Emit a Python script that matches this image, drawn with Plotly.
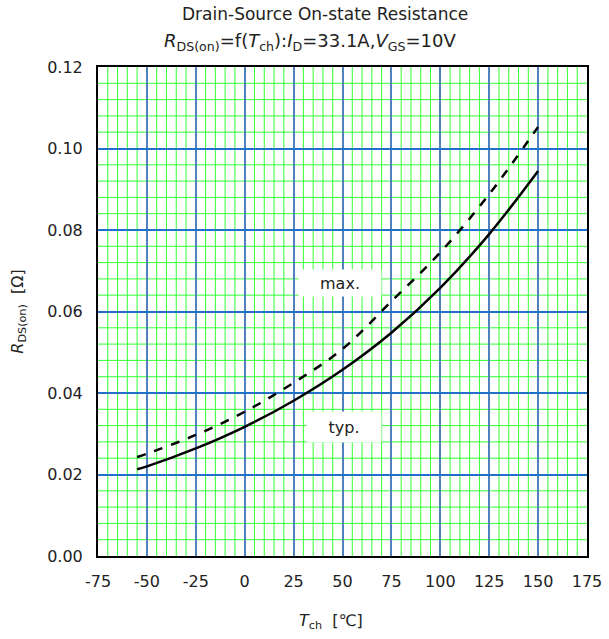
import plotly.graph_objects as go

temps = [-55, -50, -25, 0, 25, 50, 75, 100, 125, 150]
r_typ = [0.0213, 0.0220, 0.0264, 0.0317, 0.0381, 0.0457, 0.0548, 0.0658, 0.0790, 0.0945]
r_max = [0.0243, 0.0251, 0.0297, 0.0354, 0.0425, 0.0508, 0.0625, 0.0745, 0.0888, 0.1053]

x_ticks = [-75, -50, -25, 0, 25, 50, 75, 100, 125, 150, 175]
y_ticks = [0.00, 0.02, 0.04, 0.06, 0.08, 0.10, 0.12]
x_minor = [v for v in range(-75, 176, 5) if v % 25 != 0]
y_minor = [round(i * 0.004, 3) for i in range(0, 31) if i % 5 != 0]

FONT = "DejaVu Sans"
GREEN = "#33ff33"
BLUE_V = "#4f81bd"
BLUE_H = "#1f72c8"
XR = [-75, 175]
YR = [0, 0.12]
NO_MINOR = dict(showgrid=False, ticks="")

fig = go.Figure()
fig.add_trace(go.Scatter(x=temps, y=r_max, mode="lines",
                         line=dict(color="black", width=2.5, dash="dash", shape="spline"),
                         showlegend=False))
fig.add_trace(go.Scatter(x=temps, y=r_typ, mode="lines",
                         line=dict(color="black", width=2.5, shape="spline"),
                         showlegend=False))

fig.update_layout(
    template="none",
    width=609, height=639,
    margin=dict(l=98, r=22, t=67, b=83),
    paper_bgcolor="white", plot_bgcolor="white",
    font=dict(family=FONT, size=16, color="#222"),
    xaxis=dict(range=XR, tickmode="array", tickvals=x_ticks,
               ticktext=[str(v) for v in x_ticks],
               showgrid=True, gridcolor=BLUE_V, gridwidth=2, minor=NO_MINOR,
               showline=True, linecolor="black", linewidth=2, mirror=True,
               zeroline=False, ticks="", ticklabelstandoff=10, automargin=False),
    yaxis=dict(range=YR, tickmode="array", tickvals=y_ticks,
               ticktext=[f"{v:.2f}" for v in y_ticks],
               showgrid=True, gridcolor=BLUE_H, gridwidth=2, minor=NO_MINOR,
               showline=True, linecolor="black", linewidth=2, mirror=True,
               zeroline=False, ticks="", ticklabelstandoff=10, automargin=False,
               title=dict(text="<i>R</i><sub>DS(on)</sub>  [Ω]", font=dict(size=16), standoff=20)),
)

# minor (green) grid, drawn beneath the major grid
for v in x_minor:
    fig.add_shape(type="line", xref="x", yref="paper", x0=v, x1=v, y0=0, y1=1,
                  line=dict(color=GREEN, width=1), layer="below")
for v in y_minor:
    fig.add_shape(type="line", xref="paper", yref="y", x0=0, x1=1, y0=v, y1=v,
                  line=dict(color=GREEN, width=1), layer="below")

fig.add_annotation(text="Drain-Source On-state Resistance", xref="paper", yref="paper",
                   x=(325 - 98) / 489, y=(556 - 14) / 489, yanchor="middle",
                   xanchor="center", showarrow=False, font=dict(size=17, color="#222"))
fig.add_annotation(text="<i>R</i><sub>DS(on)</sub>=f(<i>T</i><sub>ch</sub>):<i>I</i><sub>D</sub>=33.1A,<i>V</i><sub>GS</sub>=10V",
                   xref="paper", yref="paper",
                   x=(310 - 98) / 489, y=(556 - 42) / 489, yanchor="middle",
                   xanchor="center", showarrow=False, font=dict(size=18, color="#222"))
fig.add_annotation(text="<i>T</i><sub>ch</sub>  [℃]", xref="paper", yref="paper",
                   x=(331 - 98) / 489, y=(556 - 621) / 489, yanchor="middle",
                   xanchor="center", showarrow=False, font=dict(size=16, color="#222"))

fig.add_annotation(text="max.", x=48.6, y=0.067, xref="x", yref="y", showarrow=False,
                   bgcolor="white", width=80, height=24, font=dict(size=16, color="#222"))
fig.add_annotation(text="typ.", x=50.9, y=0.0317, xref="x", yref="y", showarrow=False,
                   bgcolor="white", width=72, height=28, font=dict(size=16, color="#222"))

fig.write_html("out.html", config={"displayModeBar": False},
               post_script="document.body.style.margin='0';")
